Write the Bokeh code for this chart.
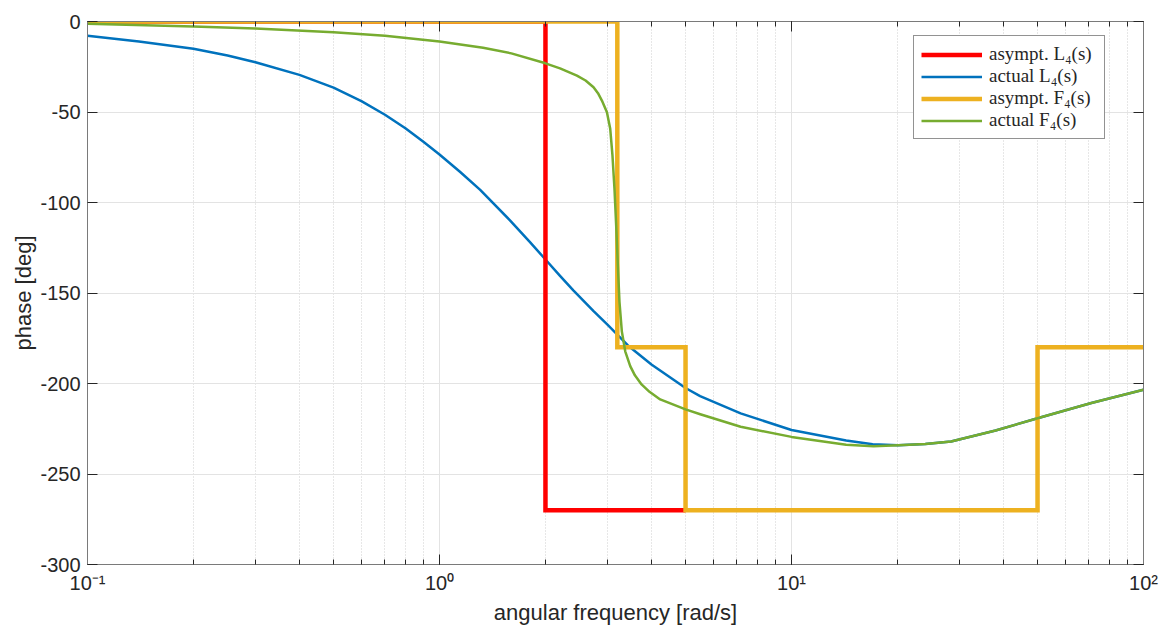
from bokeh.plotting import figure
from bokeh.models import (Range1d, LogAxis, LinearAxis, FixedTicker, LogTicker,
                          CustomJSTickFormatter, Legend, LegendItem)
from bokeh.embed import file_html
from bokeh.resources import INLINE

# ---- data ----
asym_L4_w = [0.1, 2.0, 2.0, 5.0]
asym_L4_ph = [0, 0, -270, -270]

act_L4_w = [0.1, 0.14, 0.2, 0.25, 0.3, 0.4, 0.5, 0.6, 0.7, 0.8, 0.9, 1.0, 1.143, 1.305,
            1.588, 1.81, 2.0, 2.2, 2.4, 2.74, 3.0, 3.43, 4.0, 5.0, 5.5, 7.17, 10.0,
            14.3, 17.0, 20.1, 24.0, 28.4, 38.0, 50.0, 71.1, 100.0]
act_L4_ph = [-7.9, -11.0, -15.0, -18.8, -22.5, -29.5, -36.5, -44.0, -51.5, -59.0, -66.5,
             -73.5, -83.0, -93.0, -110.0, -122.0, -131.5, -140.5, -148.5, -160.0,
             -167.5, -179.0, -189.5, -202.5, -207.0, -216.5, -225.7, -231.5, -233.6,
             -234.1, -233.4, -232.0, -226.0, -219.2, -210.8, -203.5]

asym_F4_w = [0.1, 3.2, 3.2, 5.0, 5.0, 50.0, 50.0, 100.0]
asym_F4_ph = [0, 0, -180, -180, -270, -270, -180, -180]

act_F4_w = [0.1, 0.2, 0.3, 0.5, 0.7, 1.0, 1.33, 1.6, 2.0, 2.2, 2.457, 2.6, 2.739, 2.82,
            2.893, 2.99, 3.055, 3.10, 3.141, 3.176, 3.211, 3.245, 3.296, 3.37, 3.482,
            3.59, 3.75, 3.95, 4.236, 5.0, 5.505, 7.17, 10.0, 14.3, 17.1, 20.1, 24.0,
            28.4, 38.0, 50.0, 71.1, 100.0]
act_F4_ph = [-1.3, -2.8, -3.9, -6.0, -7.9, -11.0, -14.5, -17.6, -23.1, -25.9, -29.9,
             -32.6, -36.3, -39.6, -43.7, -50.1, -59.3, -74.0, -92.3, -112.5, -134.5,
             -154.7, -171.2, -182.2, -190.4, -195.5, -200.5, -204.6, -208.8, -214.3,
             -217.0, -223.9, -229.5, -233.8, -234.7, -234.1, -233.4, -232.0, -226.0,
             -219.2, -210.8, -203.5]

y_ticks = [-300, -250, -200, -150, -100, -50, 0]

legend_labels = ["asympt. L\u2084(s)", "actual L\u2084(s)",
                 "asympt. F\u2084(s)", "actual F\u2084(s)"]

# ---- figure ----
p = figure(width=1163, height=627, x_axis_type="log",
           x_range=Range1d(0.1, 100), y_range=Range1d(-300, 0),
           output_backend="svg", toolbar_location=None,
           min_border_left=87, min_border_right=20, min_border_top=21,
           min_border_bottom=62,
           x_axis_label="angular frequency [rad/s]", y_axis_label="phase [deg]")
p.background_fill_color = "white"
p.border_fill_color = "white"
p.outline_line_color = "#7a7a7a"
p.outline_line_width = 1

axis_col = "#7a7a7a"
txt_col = "#262626"

xfmt = CustomJSTickFormatter(code="""
const sup = {'-':'\u207B','0':'\u2070','1':'\u00B9','2':'\u00B2','3':'\u00B3'};
const e = Math.round(Math.log10(tick));
let s = '';
for (const c of String(e)) s += sup[c];
return '10' + s;
""")
yfmt = CustomJSTickFormatter(code="return tick.toFixed(0);")
blank = CustomJSTickFormatter(code="return '';")

xa = p.xaxis[0]
xa.ticker = LogTicker(num_minor_ticks=10)
xa.formatter = xfmt
ya = p.yaxis[0]
ya.ticker = FixedTicker(ticks=y_ticks)
ya.formatter = yfmt

for ax in (xa, ya):
    ax.axis_line_color = axis_col
    ax.major_tick_line_color = txt_col
    ax.minor_tick_line_color = txt_col
    ax.major_tick_in = 10
    ax.major_tick_out = 0
    ax.minor_tick_in = 5
    ax.minor_tick_out = 0
    ax.major_label_text_font = "Liberation Sans"
    ax.major_label_text_font_size = "20px"
    ax.major_label_text_color = txt_col
    ax.axis_label_text_font = "Liberation Sans"
    ax.axis_label_text_font_size = "22px"
    ax.axis_label_text_font_style = "normal"
    ax.axis_label_text_color = txt_col
ya.minor_tick_in = 0
xa.major_label_standoff = 7
xa.axis_label_standoff = 3
ya.major_label_standoff = 7
ya.axis_label_standoff = 1

top = LogAxis(ticker=LogTicker(num_minor_ticks=10), formatter=blank)
right = LinearAxis(ticker=FixedTicker(ticks=y_ticks), formatter=blank)
for ax in (top, right):
    ax.axis_line_color = axis_col
    ax.major_tick_line_color = txt_col
    ax.minor_tick_line_color = txt_col
    ax.major_tick_in = 10
    ax.major_tick_out = 0
    ax.minor_tick_in = 5
    ax.minor_tick_out = 0
    ax.major_label_standoff = 0
    ax.major_label_text_font_size = "1px"
right.minor_tick_in = 0
p.add_layout(top, "above")
p.add_layout(right, "right")

p.xgrid.grid_line_color = "#e3e3e3"
p.xgrid.minor_grid_line_color = "#cfcfcf"
p.xgrid.minor_grid_line_dash = "1 2"
p.ygrid.grid_line_color = "#e3e3e3"
p.ygrid.ticker = FixedTicker(ticks=y_ticks)

r_blue = p.line(act_L4_w, act_L4_ph, line_color="#0072BD", line_width=2.5,
                line_join="round")
r_red = p.line(asym_L4_w, asym_L4_ph, line_color="#FF0000", line_width=4.5,
               line_join="miter")
r_orange = p.line(asym_F4_w, asym_F4_ph, line_color="#EDB120", line_width=4.5,
                  line_join="miter")
r_green = p.line(act_F4_w, act_F4_ph, line_color="#77AC30", line_width=2.5,
                 line_join="round")

legend = Legend(items=[LegendItem(label=legend_labels[0], renderers=[r_red]),
                       LegendItem(label=legend_labels[1], renderers=[r_blue]),
                       LegendItem(label=legend_labels[2], renderers=[r_orange]),
                       LegendItem(label=legend_labels[3], renderers=[r_green])],
                location=(826, 425))
legend.label_text_font = "Liberation Serif"
legend.label_text_font_size = "19px"
legend.label_text_color = txt_col
legend.glyph_width = 61
legend.glyph_height = 21
legend.label_height = 21
legend.label_width = 108
legend.label_standoff = 7
legend.spacing = 0
legend.padding = 7
legend.margin = 0
legend.border_line_color = "#262626"
legend.border_line_width = 1
legend.background_fill_color = "white"
legend.background_fill_alpha = 1
p.add_layout(legend, "center")

open("out.html", "w").write(file_html(p, INLINE))
